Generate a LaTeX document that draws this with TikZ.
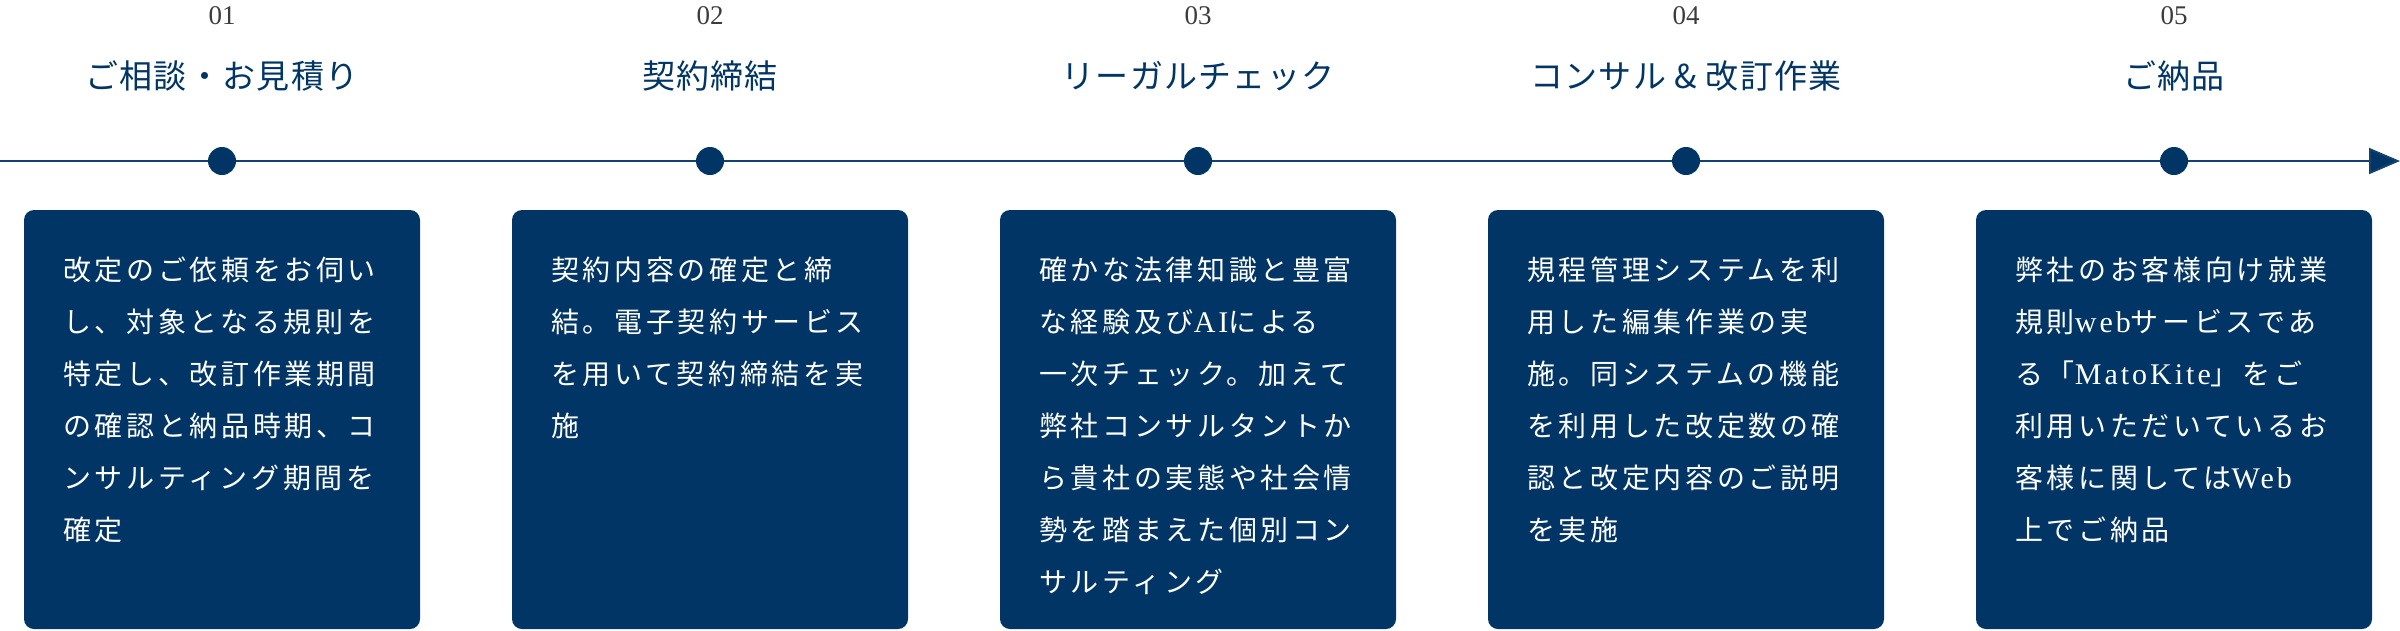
\documentclass[tikz,border=0pt]{standalone}
\usepackage{fontspec}
\usetikzlibrary{arrows.meta}
\newfontfamily\jpbody[LetterSpace=13]{Noto Sans CJK JP}
\newfontfamily\jptitle[LetterSpace=4]{Noto Sans CJK JP}
\newfontfamily\latbody[LetterSpace=10]{Liberation Serif}
\newfontfamily\numfont{Liberation Serif}
\definecolor{navy}{RGB}{0,53,102}
\definecolor{linenavy}{RGB}{20,66,112}
\definecolor{numgray}{RGB}{60,60,60}
\newcommand{\lt}[1]{{\latbody\fontsize{30}{52}\selectfont #1}}
\begin{document}
\begin{tikzpicture}[x=1pt,y=-1pt,
  stepnum/.style={font=\numfont\fontsize{27}{27}\selectfont, text=numgray, inner sep=0pt},
  steptitle/.style={font=\jptitle\fontsize{33}{33}\selectfont, text=navy, inner sep=0pt},
  stepdot/.style={circle, fill=navy, minimum size=28pt, inner sep=0pt},
  card/.style={fill=navy, rounded corners=10pt, minimum width=396pt, minimum height=419pt, inner sep=0pt},
  body/.style={font=\jpbody\fontsize{28}{52}\selectfont, text=white, align=left, anchor=north west, inner sep=0pt},
  timeline/.style={draw=linenavy, line width=2pt, -{Triangle[length=31pt,width=26pt,fill=navy]}}
]
\useasboundingbox (0,0) rectangle (2400,630);
\coordinate (tlstart) at (0,161);
\coordinate (tlend) at (2400,161);
\draw[timeline] (tlstart) -- (tlend);

% numbers
\node[stepnum] (n1) at (222,16) {01};
\node[stepnum] (n2) at (710,16) {02};
\node[stepnum] (n3) at (1198,16) {03};
\node[stepnum] (n4) at (1686,16) {04};
\node[stepnum] (n5) at (2174,16) {05};

% titles
\node[steptitle] (t1) at (222,76) {ご相談・お見積り};
\node[steptitle] (t2) at (710,76) {契約締結};
\node[steptitle] (t3) at (1198,76) {リーガルチェック};
\node[steptitle] (t4) at (1686,76) {コンサル \& 改訂作業};
\node[steptitle] (t5) at (2174,76) {ご納品};

% dots
\node[stepdot] (d1) at (222,161) {};
\node[stepdot] (d2) at (710,161) {};
\node[stepdot] (d3) at (1198,161) {};
\node[stepdot] (d4) at (1686,161) {};
\node[stepdot] (d5) at (2174,161) {};

% cards
\node[card] (c1) at (222,419.5) {};
\node[card] (c2) at (710,419.5) {};
\node[card] (c3) at (1198,419.5) {};
\node[card] (c4) at (1686,419.5) {};
\node[card] (c5) at (2174,419.5) {};

% card texts
\node[body] (b1) at (63,257) {改定のご依頼をお伺い\\し、対象となる規則を\\特定し、改訂作業期間\\の確認と納品時期、コ\\ンサルティング期間を\\確定};
\node[body] (b2) at (551,257) {契約内容の確定と締\\結。電子契約サービス\\を用いて契約締結を実\\施};
\node[body] (b3) at (1039,257) {確かな法律知識と豊富\\な経験及び\lt{AI}による\\一次チェック。加えて\\弊社コンサルタントか\\ら貴社の実態や社会情\\勢を踏まえた個別コン\\サルティング};
\node[body] (b4) at (1527,257) {規程管理システムを利\\用した編集作業の実\\施。同システムの機能\\を利用した改定数の確\\認と改定内容のご説明\\を実施};
\node[body] (b5) at (2015,257) {弊社のお客様向け就業\\規則\lt{web}サービスであ\\る「\lt{MatoKite}」をご\\利用いただいているお\\客様に関しては\lt{Web}\\上でご納品};
\end{tikzpicture}
\end{document}
